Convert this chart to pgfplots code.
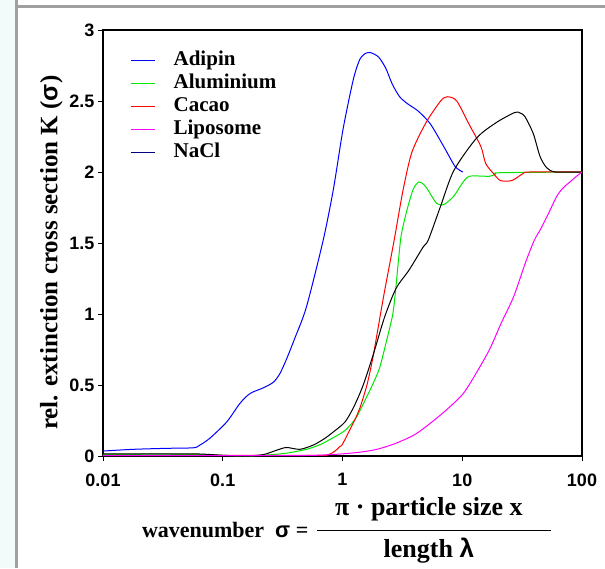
\documentclass[border=0pt]{standalone}
\usepackage{fontspec}
\setmainfont{Liberation Serif}
\newfontfamily\arialfont{Liberation Sans}
\usepackage{pgfplots}
\pgfplotsset{compat=1.18}
\definecolor{stripcol}{RGB}{242,250,250}
\definecolor{framegray}{RGB}{160,160,160}
\definecolor{nacllegend}{RGB}{0,0,128}
\definecolor{cblue}{RGB}{0,0,255}
\definecolor{cgreen}{RGB}{0,230,0}
\definecolor{cred}{RGB}{255,0,0}
\definecolor{cmag}{RGB}{255,0,255}
\setlength{\arrayrulewidth}{1.3pt}

\begin{document}
\begin{tikzpicture}[x=1pt,y=1pt]
\useasboundingbox (0,0) rectangle (605,568);
\fill[stripcol] (0,0) rectangle (15,568);
\fill[framegray] (15,0) rectangle (18,568);
\fill[framegray] (18,560) rectangle (605,563);
\begin{axis}[
  at={(103pt,112pt)}, anchor=south west,
  scale only axis, width=479pt, height=426pt,
  xmode=log, xmin=0.01, xmax=100, ymin=0, ymax=3,
  xtick={0.01,0.1,1,10,100}, xticklabels={0.01,0.1,1,10,100},
  ytick={0,0.5,1,1.5,2,2.5,3}, yticklabels={0,0.5,1,1.5,2,2.5,3},
  xminorticks=false,
  tick align=outside, tick pos=left, major tick length=5pt,
  axis line style={line width=1.1pt},
  every tick/.style={black, line width=0.8pt},
  /pgf/number format/assume math mode=true,
  ticklabel style={font=\arialfont\bfseries\fontsize{18}{18}\selectfont},
  xticklabel style={yshift=-9pt},
  xlabel={wavenumber\hspace{0.5em}{\arialfont σ} =\hspace{0.4em}{\fontsize{26}{28}\selectfont\begin{tabular}{@{\hspace{18pt}}c@{\hspace{28pt}}}π · particle size x\\[6pt]\hline\rule{0pt}{27pt}length {\arialfont λ}\end{tabular}}},
  every axis x label/.style={at={(axis description cs:0.508,0)}, anchor=center, yshift=-75pt, font=\bfseries\fontsize{22}{26}\selectfont},
  ylabel={rel. extinction cross section K ({\arialfont σ})},
  every axis y label/.style={at={(axis description cs:-0.108,0.477)}, rotate=90, anchor=center, font=\bfseries\fontsize{25}{25}\selectfont},
  legend style={draw=none, fill=none, at={(axis description cs:0.05,0.955)}, anchor=north west,
    font=\bfseries\fontsize{21}{23}\selectfont, row sep=5pt, column sep=18pt,
    nodes={inner sep=0pt, text height=14pt, text depth=4pt}},
  legend cell align=left,
  legend image code/.code={\draw[line width=1.5pt, #1] (0pt,0pt) -- (24pt,0pt);},
]
% Adipin
\addplot[cblue, line width=1pt, smooth, tension=0.45, forget plot] table {
x y
0.01 0.035
0.0178 0.047
0.034 0.054
0.057 0.058
0.0645 0.077
0.078 0.125
0.108 0.24
0.139 0.37
0.169 0.44
0.218 0.48
0.265 0.52
0.30 0.58
0.34 0.68
0.40 0.83
0.50 1.05
0.69 1.52
0.84 1.88
1.01 2.30
1.23 2.65
1.39 2.79
1.55 2.835
1.72 2.84
2.0 2.81
2.3 2.73
2.6 2.62
3.0 2.53
3.5 2.48
4.27 2.43
5.4 2.34
7.0 2.18
8.7 2.04
10.1 2.0
};
% Aluminium
\addplot[cgreen, line width=1pt, smooth, tension=0.45, forget plot] table {
x y
0.01 0.012
0.05 0.012
0.1 0.005
0.15 0.0
0.218 0.005
0.34 0.02
0.50 0.047
0.65 0.08
0.8 0.12
1.05 0.18
1.3 0.27
1.6 0.42
1.8 0.51
2.04 0.62
2.3 0.79
2.63 1.0
2.8 1.2
2.95 1.40
3.1 1.56
3.45 1.73
3.9 1.88
4.35 1.93
4.8 1.91
5.2 1.87
6.1 1.78
7.0 1.77
8.5 1.83
10 1.92
11.5 1.97
16.9 1.97
19 1.985
20.8 1.995
100 2.0
};
% Cacao
\addplot[cred, line width=1pt, smooth, tension=0.45, forget plot] table {
x y
0.01 0.005
0.5 0.005
0.73 0.005
0.85 0.03
0.95 0.066
1.01 0.09
1.31 0.28
1.40 0.34
1.6 0.5
1.8 0.70
2.2 1.12
2.7 1.52
3.2 1.87
3.8 2.14
5.0 2.35
6.6 2.50
7.5 2.53
9.0 2.50
11.5 2.33
14.3 2.18
15.7 2.06
18.2 1.99
20.8 1.94
26 1.94
32.3 1.99
36.6 2.0
100 2.0
};
% NaCl
\addplot[black, line width=1pt, smooth, tension=0.45, forget plot] table {
x y
0.01 0.015
0.05 0.015
0.07 0.013
0.1 0.005
0.15 0.0
0.218 0.01
0.28 0.04
0.34 0.06
0.44 0.047
0.57 0.077
0.7 0.12
0.84 0.17
1.05 0.24
1.25 0.35
1.49 0.50
1.8 0.71
2.25 0.98
2.8 1.18
3.6 1.31
4.7 1.47
5.2 1.52
6.6 1.76
8.5 2.01
13.2 2.24
19.4 2.35
27.6 2.42
30.5 2.415
33.4 2.39
39.2 2.27
44.6 2.11
50.7 2.03
60 2.0
100 2.0
};
% Liposome
\addplot[cmag, line width=1pt, smooth, tension=0.45, forget plot] table {
x y
0.01 0.003
0.3 0.003
0.6 0.005
1.0 0.015
1.49 0.03
2.0 0.05
2.8 0.09
4.0 0.15
5.4 0.23
7.5 0.33
10.2 0.44
13 0.58
16.9 0.75
21 0.93
26.8 1.12
34 1.37
40.0 1.52
44.6 1.59
52 1.70
61.6 1.83
70 1.89
79.3 1.93
90 1.97
100 2.0
};
\addlegendimage{cblue}
\addlegendentry{Adipin}
\addlegendimage{cgreen}
\addlegendentry{Aluminium}
\addlegendimage{cred}
\addlegendentry{Cacao}
\addlegendimage{cmag}
\addlegendentry{Liposome}
\addlegendimage{nacllegend}
\addlegendentry{NaCl}
\end{axis}
\end{tikzpicture}
\end{document}
